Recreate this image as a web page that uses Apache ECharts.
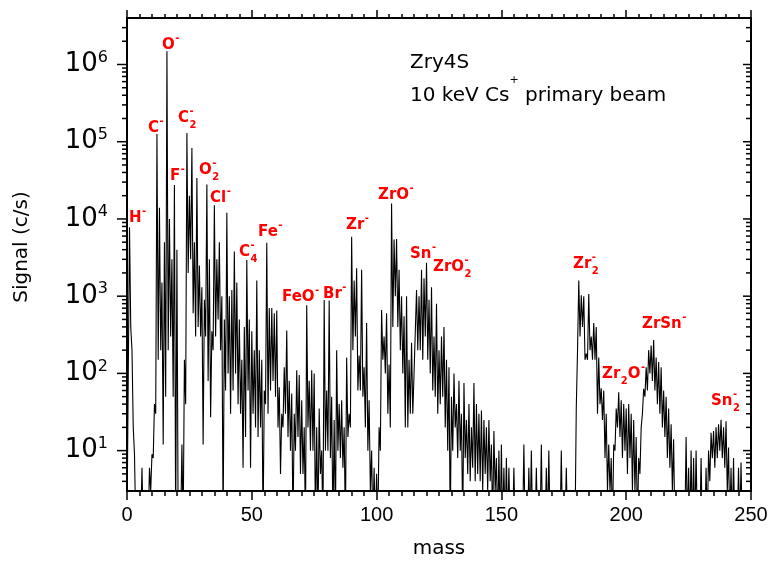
<!DOCTYPE html>
<html>
<head>
<meta charset="utf-8">
<script src="https://cdn.jsdelivr.net/npm/echarts@6/dist/echarts.min.js"></script>
<style>
    html, body { margin: 0; padding: 0; background: #fff; }
    #chart { width: 770px; height: 561px; }
</style>
</head>
<body>
<div id="chart"></div>
<script>
    // signal at each integer mass 0..250 (c/s)
    var peaks = [
        1, 7800, 200, 9, 1, 1, 6, 1, 1, 6,
        9, 40, 126000, 14000, 1500, 5000, 1480000, 10000, 3000, 27500,
        4000, 3, 12, 150, 130000, 20000, 83000, 5000, 34000, 2500,
        1300, 900, 28000, 3000, 350, 15000, 3000, 5000, 1000, 500,
        12000, 1000, 1200, 3800, 1500, 500, 150, 400, 2950, 500,
        350, 200, 1600, 200, 150, 60, 4900, 700, 700, 600,
        650, 66, 30, 120, 360, 80, 55, 30, 110, 95,
        45, 20, 760, 80, 110, 100, 20, 35, 10, 890,
        60, 880, 50, 25, 200, 40, 45, 20, 160, 30,
        5900, 1600, 2300, 170, 2200, 120, 450, 45, 10, 6,
        5, 20, 660, 300, 600, 130, 15800, 5400, 5500, 2200,
        1000, 550, 1000, 150, 250, 100, 1200, 1000, 2200, 1700,
        2700, 900, 1300, 300, 800, 200, 300, 400, 150, 120,
        50, 100, 40, 80, 30, 75, 25, 40, 20, 75,
        40, 30, 33, 25, 20, 25, 12, 18, 8, 10,
        12, 6, 8, 6, 1, 6, 1, 1, 1, 12,
        1, 6, 10, 1, 6, 1, 12, 1, 6, 10,
        1, 1, 1, 1, 10, 1, 6, 1, 1, 1,
        36, 1600, 1030, 1000, 180, 1070, 300, 450, 400, 160,
        64, 60, 30, 12, 8, 12, 35, 57, 45, 40,
        35, 40, 30, 25, 15, 8, 20, 63, 120, 200,
        230, 270, 160, 140, 120, 60, 50, 35, 22, 14,
        1, 1, 1, 1, 15, 6, 10, 8, 10, 1,
        8, 1, 6, 10, 17, 18, 20, 22, 25, 20,
        24, 11, 6, 8, 1, 6, 7, 1, 1, 1, 1
    ];

    // signal between masses (m + 0.5), m = 0..249
    var valleys = [
        1, 400, 20, 1, 1, 1, 1, 1, 1, 3,
        8, 30, 150, 200, 12, 50, 200, 300, 50, 1,
        1, 1, 1, 40, 2000, 3000, 600, 300, 400, 300,
        12, 300, 80, 27, 200, 300, 500, 200, 1, 60,
        100, 30, 60, 100, 40, 30, 6, 15, 60, 6,
        30, 20, 15, 20, 1, 40, 30, 60, 80, 50,
        20, 5, 20, 30, 15, 10, 1, 10, 15, 5,
        5, 1, 20, 10, 10, 1, 1, 5, 1, 10,
        10, 8, 1, 1, 10, 8, 6, 1, 15, 20,
        200, 300, 60, 60, 50, 20, 10, 3, 1, 1,
        1, 10, 150, 100, 30, 20, 400, 1000, 400, 200,
        100, 20, 20, 30, 30, 100, 200, 200, 150, 300,
        150, 100, 60, 50, 30, 40, 50, 20, 10, 1,
        10, 20, 8, 10, 1, 8, 5, 4, 6, 4,
        5, 4, 3, 5, 3, 4, 1, 3, 1, 1,
        1, 1, 1, 1, 1, 1, 1, 1, 1, 1,
        1, 1, 1, 1, 1, 1, 1, 1, 1, 1,
        1, 1, 1, 1, 1, 1, 1, 1, 1, 1,
        200, 300, 400, 150, 150, 200, 150, 150, 30, 40,
        25, 8, 3, 3, 1, 10, 20, 15, 8, 10,
        5, 8, 3, 3, 1, 5, 30, 50, 60, 100,
        80, 60, 40, 30, 20, 15, 8, 6, 3, 1,
        1, 1, 1, 1, 1, 1, 1, 1, 1, 1,
        1, 1, 1, 4, 8, 6, 8, 10, 8, 6,
        3, 1, 1, 1, 1, 1, 1, 1, 1, 1
    ];

    var decades = [0, 1, 2, 3, 4, 5, 6];
    var minorSteps = [2, 3, 4, 5, 6, 7, 8, 9];

    // ion labels: [text, b = base | sub | sup]
    var ionLabels = [
        [['H', 'b'], ['-', 'sup']],
        [['C', 'b'], ['-', 'sup']],
        [['O', 'b'], ['-', 'sup']],
        [['C', 'b'], ['2', 'sub'], ['-', 'sup']],
        [['F', 'b'], ['-', 'sup']],
        [['O', 'b'], ['2', 'sub'], ['-', 'sup']],
        [['Cl', 'b'], ['-', 'sup']],
        [['C', 'b'], ['4', 'sub'], ['-', 'sup']],
        [['Fe', 'b'], ['-', 'sup']],
        [['FeO', 'b'], ['-', 'sup']],
        [['Br', 'b'], ['-', 'sup']],
        [['Zr', 'b'], ['-', 'sup']],
        [['ZrO', 'b'], ['-', 'sup']],
        [['Sn', 'b'], ['-', 'sup']],
        [['ZrO', 'b'], ['2', 'sub'], ['-', 'sup']],
        [['Zr', 'b'], ['2', 'sub'], ['-', 'sup']],
        [['Zr', 'b'], ['2', 'sub'], ['O', 'b'], ['-', 'sup']],
        [['ZrSn', 'b'], ['-', 'sup']],
        [['Sn', 'b'], ['2', 'sub'], ['-', 'sup']]
    ];

    var spectrum = [];
    for (var m = 0; m < peaks.length; m++) {
        spectrum.push([m, peaks[m]]);
        if (m < valleys.length) spectrum.push([m + 0.5, valleys[m]]);
    }

    // log-axis ticks: [x, value, isMajor]
    var yTicks = [];
    decades.forEach(function (d) {
        var p = Math.pow(10, d);
        if (d > 0) yTicks.push([0, p, 1]);
        minorSteps.forEach(function (s) {
            var v = s * p;
            if (v > 3 && v < 4e6) yTicks.push([0, v, 0]);
        });
    });

    // label layout (pixels)
    var ionLabelPos = [
        [129, 218], [148, 128], [162, 45], [178, 118], [170, 176], [199, 170],
        [210, 198], [239, 252], [258, 232], [282, 297], [323, 294], [346, 225],
        [378, 195], [410, 254], [433, 267], [573, 264], [602, 374], [642, 324],
        [711, 401]
    ];

    var measureCtx = document.createElement('canvas').getContext('2d');
    function textWidth(t, font) {
        measureCtx.font = font;
        return measureCtx.measureText(t).width;
    }

    var baseFont = 'bold 15px "DejaVu Sans"';
    var scriptFont = 'bold 10px "DejaVu Sans"';
    var red = '#ff0000';

    function buildLabel(parts, pos) {
        var children = [];
        var cx = 0, scriptStart = null, scriptWidth = 0;
        parts.forEach(function (p) {
            var t = p[0], kind = p[1];
            if (kind === 'b') {
                if (scriptStart !== null) {
                    cx = scriptStart + scriptWidth;
                    scriptStart = null;
                }
                children.push({
                    type: 'text', x: cx, y: 0,
                    style: { text: t, font: baseFont, fill: red, textAlign: 'left', textVerticalAlign: 'middle' }
                });
                cx += textWidth(t, baseFont);
            } else {
                if (scriptStart === null) {
                    scriptStart = cx + 0.5;
                    scriptWidth = 0;
                }
                children.push({
                    type: 'text', x: scriptStart, y: kind === 'sup' ? -7 : 7,
                    style: { text: t, font: scriptFont, fill: red, textAlign: 'left', textVerticalAlign: 'middle' }
                });
                scriptWidth = Math.max(scriptWidth, textWidth(t, scriptFont));
            }
        });
        return { type: 'group', x: pos[0], y: pos[1], children: children };
    }

    var graphics = [];
    ionLabels.forEach(function (parts, i) {
        graphics.push(buildLabel(parts, ionLabelPos[i]));
    });

    var noteFont = '20px "DejaVu Sans"';
    var supFont = '11px "DejaVu Sans"';
    var noteW1 = textWidth('10 keV Cs', noteFont);
    var noteW2 = textWidth('+', supFont);
    graphics.push({
        type: 'text', x: 410, y: 63,
        style: { text: 'Zry4S', font: noteFont, fill: '#000', textVerticalAlign: 'middle' }
    });
    graphics.push({
        type: 'group', x: 410, y: 96,
        children: [
            { type: 'text', x: 0, y: 0, style: { text: '10 keV Cs', font: noteFont, fill: '#000', textVerticalAlign: 'middle' } },
            { type: 'text', x: noteW1, y: -16, style: { text: '+', font: supFont, fill: '#000', textVerticalAlign: 'middle' } },
            { type: 'text', x: noteW1 + noteW2, y: 0, style: { text: ' primary beam', font: noteFont, fill: '#000', textVerticalAlign: 'middle' } }
        ]
    });
    graphics.push({
        type: 'text', x: 22, y: 247, rotation: Math.PI / 2,
        style: { text: 'Signal (c/s)', font: noteFont, fill: '#000', textAlign: 'center', textVerticalAlign: 'middle' }
    });

    var axisLineStyle = { color: '#000', width: 2 };

    var chart = echarts.init(document.getElementById('chart'));
    chart.setOption({
        animation: false,
        backgroundColor: '#fff',
        grid: { left: 127, right: 19, top: 18, bottom: 70, containLabel: false, outerBoundsMode: 'none' },
        xAxis: [{
            type: 'value',
            min: 0,
            max: 250,
            interval: 50,
            axisLine: { onZero: false, lineStyle: axisLineStyle },
            axisTick: { inside: false, length: 9, lineStyle: { color: '#000', width: 1.5 } },
            minorTick: { show: true, splitNumber: 10, length: 5, lineStyle: { color: '#000', width: 1.5 } },
            splitLine: { show: false },
            minorSplitLine: { show: false },
            axisLabel: { margin: 14, color: '#000', fontSize: 20, fontFamily: 'Liberation Sans' },
            name: 'mass',
            nameLocation: 'middle',
            nameGap: 48,
            nameTextStyle: { color: '#000', fontSize: 20, fontFamily: 'DejaVu Sans' }
        }, {
            type: 'value',
            position: 'top',
            min: 0,
            max: 250,
            interval: 50,
            axisLine: { onZero: false, lineStyle: axisLineStyle },
            axisTick: { inside: false, length: 8, lineStyle: { color: '#000', width: 1.5 } },
            minorTick: { show: true, splitNumber: 10, length: 4, lineStyle: { color: '#000', width: 1.5 } },
            splitLine: { show: false },
            axisLabel: { show: false }
        }],
        yAxis: [{
            type: 'log',
            logBase: 10,
            min: 3,
            max: 4e6,
            axisLine: { show: true, onZero: false, lineStyle: axisLineStyle },
            axisTick: { show: false },
            splitLine: { show: false },
            axisLabel: {
                margin: 19,
                showMinLabel: false,
                showMaxLabel: false,
                formatter: function (value) {
                    var e = Math.log10(value);
                    if (Math.abs(e - Math.round(e)) > 1e-6) return '';
                    return '{b|10}{s|' + Math.round(e) + '}';
                },
                rich: {
                    b: { fontSize: 26, fontFamily: 'DejaVu Sans', color: '#000', lineHeight: 30 },
                    s: { fontSize: 16, fontFamily: 'DejaVu Sans', color: '#000', lineHeight: 15, verticalAlign: 'top' }
                }
            }
        }, {
            type: 'log',
            logBase: 10,
            position: 'right',
            min: 3,
            max: 4e6,
            axisLine: { show: true, onZero: false, lineStyle: axisLineStyle },
            axisTick: { show: false },
            splitLine: { show: false },
            axisLabel: { show: false }
        }],
        graphic: graphics,
        series: [{
            type: 'line',
            data: spectrum,
            showSymbol: false,
            symbol: 'none',
            clip: true,
            lineStyle: { color: '#000', width: 1.1 },
            z: 3
        }, {
            type: 'custom',
            xAxisIndex: 0,
            yAxisIndex: 0,
            data: yTicks,
            encode: { x: 0, y: 1 },
            clip: false,
            silent: true,
            z: 5,
            renderItem: function (params, api) {
                var v = api.value(1);
                var major = api.value(2);
                var l = api.coord([0, v]);
                var r = api.coord([250, v]);
                var lenL = major ? 10 : 5;
                var lenR = major ? 8 : 5;
                var st = { stroke: '#000', lineWidth: 1.5 };
                return {
                    type: 'group',
                    children: [
                        { type: 'line', shape: { x1: l[0] - lenL, y1: l[1], x2: l[0], y2: l[1] }, style: st },
                        { type: 'line', shape: { x1: r[0] - lenR, y1: r[1], x2: r[0], y2: r[1] }, style: st }
                    ]
                };
            }
        }]
    });
</script>
</body>
</html>
